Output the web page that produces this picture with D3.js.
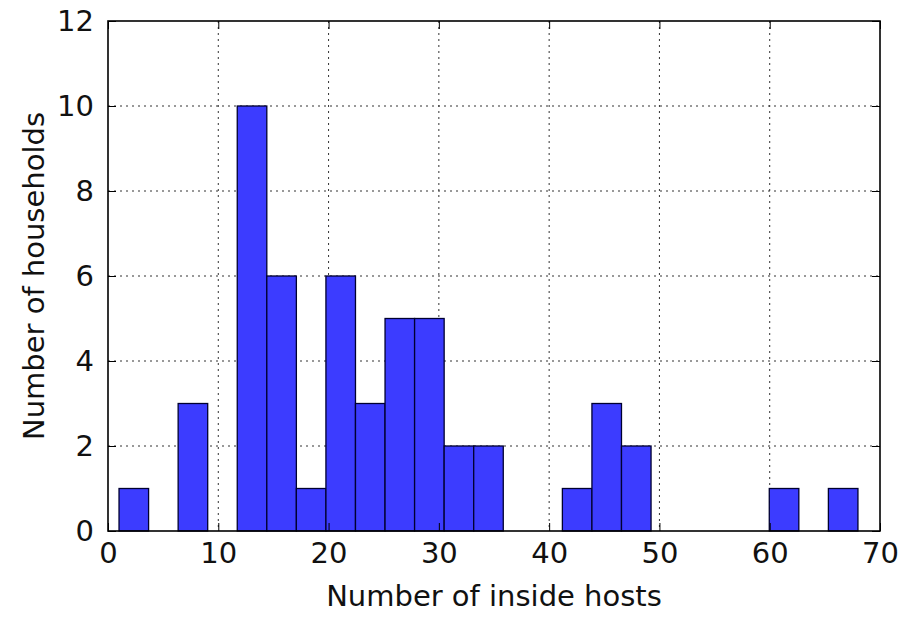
<!DOCTYPE html>
<html><head><meta charset="utf-8">
<script src="https://cdn.jsdelivr.net/npm/d3@7"></script>
<style>body{margin:0;background:#fff}svg{display:block}text{font-family:"DejaVu Sans",sans-serif;fill:#111}</style>
</head><body>
<svg id="c" width="901" height="620"></svg>
<script>
const binLeft  = [1,3.68,6.36,9.04,11.72,14.4,17.08,19.76,22.44,25.12,27.8,30.48,33.16,35.84,38.52,41.2,43.88,46.56,49.24,51.92,54.6,57.28,59.96,62.64,65.32];
const binRight = [3.68,6.36,9.04,11.72,14.4,17.08,19.76,22.44,25.12,27.8,30.48,33.16,35.84,38.52,41.2,43.88,46.56,49.24,51.92,54.6,57.28,59.96,62.64,65.32,68];
const counts   = [1,0,3,0,10,6,1,6,3,5,5,2,2,0,0,1,3,2,0,0,0,0,1,0,1];
const xTicks = [0,10,20,30,40,50,60,70];
const yTicks = [0,2,4,6,8,10,12];
const xTitle = "Number of inside hosts";
const yTitle = "Number of households";

const svg = d3.select("#c");
const L=108, T=21, R=880, B=531;
const FS = 29;
const x = d3.scaleLinear().domain([0,70]).range([L,R]);
const y = d3.scaleLinear().domain([0,12]).range([B,T]);

// grid
const g = svg.append("g");
g.selectAll(".gx").data(xTicks.slice(1,-1)).enter().append("line")
  .attr("x1",d=>x(d)).attr("x2",d=>x(d)).attr("y1",T).attr("y2",B)
  .attr("stroke","#333").attr("stroke-width",1).attr("stroke-dasharray","2,4");
g.selectAll(".gy").data(yTicks.slice(1,-1)).enter().append("line")
  .attr("y1",d=>y(d)).attr("y2",d=>y(d)).attr("x1",L).attr("x2",R)
  .attr("stroke","#333").attr("stroke-width",1).attr("stroke-dasharray","2,4");

// bars
svg.append("g").selectAll("rect").data(counts.map((c,i)=>({c,l:binLeft[i],r:binRight[i]})).filter(d=>d.c>0))
  .enter().append("rect")
  .attr("x",d=>x(d.l)).attr("width",d=>x(d.r)-x(d.l))
  .attr("y",d=>y(d.c)).attr("height",d=>y(0)-y(d.c))
  .attr("fill","#3c3cff").attr("stroke","#000030").attr("stroke-width",1.3);

// axes with inward ticks
const tl=8;
const ax = svg.append("g").attr("transform",`translate(0,${B})`)
  .call(d3.axisBottom(x).tickValues(xTicks).tickSizeInner(-tl).tickSizeOuter(0).tickPadding(11));
const axT = svg.append("g").attr("transform",`translate(0,${T})`)
  .call(d3.axisTop(x).tickValues(xTicks).tickSizeInner(-tl).tickSizeOuter(0).tickFormat(""));
const ay = svg.append("g").attr("transform",`translate(${L},0)`)
  .call(d3.axisLeft(y).tickValues(yTicks).tickSizeInner(-tl).tickSizeOuter(0).tickPadding(14));
const ayR = svg.append("g").attr("transform",`translate(${R},0)`)
  .call(d3.axisRight(y).tickValues(yTicks).tickSizeInner(-tl).tickSizeOuter(0).tickFormat(""));
[ax,axT,ay,ayR].forEach(a=>{a.select(".domain").remove();a.selectAll("line").attr("stroke","#000").attr("stroke-width",1);a.selectAll("text").style("font-size",FS+"px").style("font-family","DejaVu Sans").attr("fill","#111");});

svg.append("rect").attr("x",L).attr("y",T).attr("width",R-L).attr("height",B-T)
  .attr("fill","none").attr("stroke","#000").attr("stroke-width",1.6);

svg.append("text").attr("x",(L+R)/2).attr("y",606).attr("text-anchor","middle").style("font-size",FS+"px").text(xTitle);
svg.append("text").attr("transform",`translate(44,${(T+B)/2}) rotate(-90)`).attr("text-anchor","middle").style("font-size",FS+"px").text(yTitle);
</script>
</body></html>
